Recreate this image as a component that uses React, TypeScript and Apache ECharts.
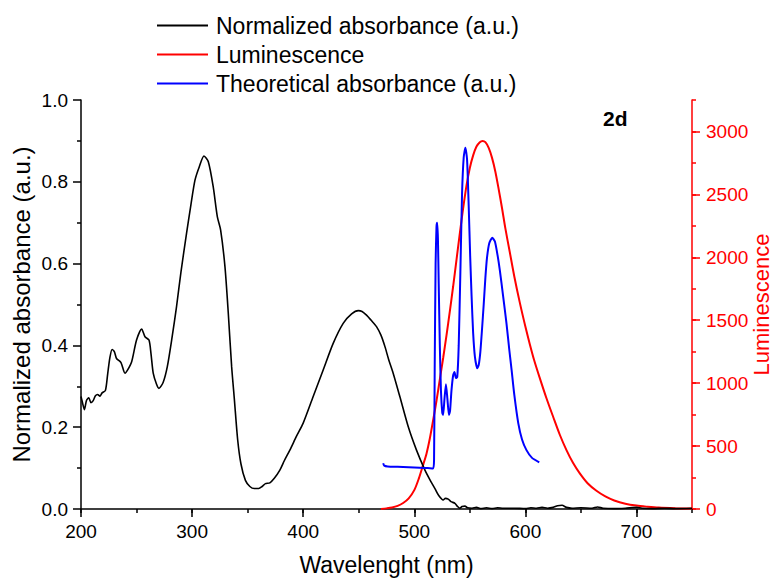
import React, { useEffect, useRef } from "react";
import * as echarts from "echarts";

const FONT = "'Liberation Sans', Arial, sans-serif";

// Normalized absorbance (black) – wavelength (nm) / value (a.u.)
const absWl = [200, 201.5, 203, 205, 207, 209, 211, 213, 215, 217, 219, 222, 224, 226, 228, 230, 232, 236, 239.6, 242, 245.6, 250, 254.6, 257.6, 261.2, 263, 265, 268, 270.2, 274, 277.7, 282, 286, 290, 295, 299, 302.6, 306.5, 310.7, 314.6, 319, 322.7, 325.7, 329.6, 332.6, 335.6, 338, 341, 344, 348, 352, 356, 360, 363, 366, 370, 374, 379, 383, 388, 394, 400, 409, 418, 427, 436, 443.6, 449.6, 453, 457, 461, 466, 470, 473.6, 477, 481, 487, 494.6, 502, 509.6, 514, 518.6, 522, 526, 528, 530.6, 533, 536.6, 539, 541, 543, 545.6, 548, 552, 556, 560, 565, 570, 575, 580, 590, 600, 605, 610, 615, 620, 625, 629, 633, 637, 642, 650, 660, 665, 670, 680, 690, 700, 705, 715, 725, 735, 750];
const absVal = [0.275, 0.258, 0.243, 0.266, 0.272, 0.26, 0.265, 0.277, 0.28, 0.276, 0.284, 0.29, 0.33, 0.37, 0.39, 0.385, 0.368, 0.358, 0.332, 0.34, 0.36, 0.413, 0.44, 0.421, 0.413, 0.38, 0.332, 0.305, 0.295, 0.31, 0.348, 0.42, 0.495, 0.58, 0.674, 0.745, 0.804, 0.837, 0.863, 0.849, 0.788, 0.715, 0.682, 0.592, 0.478, 0.348, 0.27, 0.17, 0.11, 0.07, 0.055, 0.05, 0.05, 0.055, 0.062, 0.064, 0.075, 0.095, 0.118, 0.144, 0.178, 0.21, 0.275, 0.34, 0.405, 0.454, 0.477, 0.485, 0.483, 0.474, 0.462, 0.446, 0.425, 0.397, 0.365, 0.332, 0.275, 0.201, 0.144, 0.095, 0.072, 0.05, 0.033, 0.022, 0.026, 0.024, 0.018, 0.014, 0.006, 0.002, 0.006, 0.007, 0.003, 0.002, 0.004, 0.001, 0.003, 0.001, 0.003, 0.002, 0.002, 0.001, 0.003, 0.002, 0.004, 0.002, 0.004, 0.008, 0.009, 0.004, 0.002, 0.003, 0.002, 0.005, 0.002, 0.001, 0.002, 0.004, 0.002, 0.001, 0.002, 0.001, 0.002];

// Luminescence (red) – wavelength (nm) / intensity
const lumWl = [470, 475, 480, 485, 490, 495, 500, 504, 507.6, 511, 514, 517, 520, 523, 526, 529, 532, 535, 538, 541, 544, 547, 550, 553, 556, 559, 561.5, 564, 567, 570, 573, 576, 579, 582, 586, 590, 595, 600, 604, 608, 613, 619, 625, 631, 637, 643, 649, 656, 664, 672, 680, 690, 700, 710, 720, 735, 750];
const lumVal = [0, 5, 12, 25, 48, 85, 150, 240, 341, 440, 560, 706, 860, 1030, 1200, 1380, 1570, 1770, 1980, 2190, 2390, 2570, 2710, 2810, 2880, 2915, 2925, 2915, 2870, 2790, 2680, 2540, 2390, 2230, 2040, 1850, 1640, 1450, 1310, 1180, 1040, 880, 733, 590, 468, 365, 283, 205, 145, 100, 68, 42, 27, 18, 11, 6, 3];

// Theoretical absorbance (blue) – wavelength (nm) / value (a.u.)
const theoWl = [472, 473, 476, 485, 495, 505, 512, 517, 517.8, 518.4, 519.2, 520, 520.6, 521.3, 522, 523, 524, 525.2, 526, 527.2, 528.5, 529.8, 531.2, 532.2, 533.5, 535, 536.2, 537.5, 538.7, 540, 541.5, 543, 544.5, 546, 547.5, 549, 550.3, 551.6, 553, 554.6, 556.7, 558, 559.5, 561, 562.5, 564, 565.5, 567.5, 570.2, 572.6, 575, 577, 580, 583, 585.5, 587.6, 590, 593.6, 597, 601, 606, 612.5];
const theoVal = [0.112, 0.106, 0.104, 0.103, 0.102, 0.101, 0.1, 0.099, 0.12, 0.35, 0.6, 0.69, 0.7, 0.66, 0.55, 0.4, 0.29, 0.235, 0.23, 0.27, 0.305, 0.27, 0.23, 0.24, 0.29, 0.327, 0.335, 0.32, 0.323, 0.4, 0.58, 0.77, 0.86, 0.883, 0.855, 0.74, 0.62, 0.52, 0.43, 0.372, 0.344, 0.352, 0.385, 0.44, 0.5, 0.565, 0.615, 0.65, 0.663, 0.654, 0.62, 0.584, 0.52, 0.454, 0.39, 0.34, 0.28, 0.21, 0.17, 0.144, 0.125, 0.114];

const xTicksMajor = { min: 200, max: 750, interval: 100 };
const leftTicks = { min: 0, max: 1, interval: 0.2 };
const rightTicks = { min: 0, max: 3250, interval: 500 };

const seriesNames = ["Normalized absorbance (a.u.)", "Luminescence", "Theoretical absorbance (a.u.)"];

const zip = (a: number[], b: number[]) => a.map((v, i) => [v, b[i]]);

export default function App() {
  const ref = useRef<HTMLDivElement>(null);
  useEffect(() => {
    if (!ref.current) return;
    const chart = echarts.init(ref.current, undefined, { renderer: "svg" });
    chart.setOption({
      animation: false,
      backgroundColor: "#fff",
      textStyle: { fontFamily: FONT },
      grid: { left: 81, right: 82, top: 100, bottom: 69, containLabel: false, outerBoundsMode: "none" },
      legend: {
        orient: "vertical",
        left: 157,
        top: 11,
        padding: 0,
        itemGap: 0,
        itemWidth: 51,
        itemHeight: 2,
        icon: "rect",
        data: seriesNames,
        textStyle: { fontSize: 23, color: "#000", fontFamily: FONT, lineHeight: 29, padding: [0, 0, 0, 3] },
      },
      graphic: [
        {
          type: "text",
          x: 603,
          y: 118,
          style: { text: "2d", fontSize: 21, fontWeight: "bold", fill: "#000", font: `bold 21px ${FONT}`, textVerticalAlign: "middle" },
        },
      ],
      xAxis: [
        {
          type: "value",
          position: "bottom",
          ...xTicksMajor,
          name: "Wavelenght (nm)",
          nameLocation: "middle",
          nameGap: 44,
          nameMoveOverlap: false,
          nameTextStyle: { fontSize: 23, color: "#000", fontFamily: FONT },
          axisLine: { show: true, onZero: false, lineStyle: { color: "#000", width: 1.5 } },
          axisTick: { show: true, length: 8, lineStyle: { color: "#000", width: 1.5 } },
          axisLabel: { showMaxLabel: false, fontSize: 19, color: "#000", margin: 13, fontFamily: FONT },
          splitLine: { show: false },
        },
        {
          type: "value",
          position: "bottom",
          min: xTicksMajor.min,
          max: xTicksMajor.max,
          interval: xTicksMajor.interval / 2,
          axisLine: { show: false, onZero: false },
          axisTick: { show: true, length: 4, lineStyle: { color: "#000", width: 1.5 } },
          axisLabel: { show: false },
          splitLine: { show: false },
        },
      ],
      yAxis: [
        {
          type: "value",
          position: "left",
          ...leftTicks,
          name: seriesNames[0],
          nameLocation: "middle",
          nameRotate: 90,
          nameGap: 48,
          nameMoveOverlap: false,
          nameTextStyle: { fontSize: 24, color: "#000", fontFamily: FONT },
          axisLine: { show: true, onZero: false, lineStyle: { color: "#000", width: 1.5 } },
          axisTick: { show: true, length: 8, lineStyle: { color: "#000", width: 1.5 } },
          minorTick: { show: true, splitNumber: 2, length: 4, lineStyle: { color: "#000", width: 1.5 } },
          axisLabel: { fontSize: 19, color: "#000", margin: 13, fontFamily: FONT, formatter: (v: number) => v.toFixed(1) },
          splitLine: { show: false },
          minorSplitLine: { show: false },
        },
        {
          type: "value",
          position: "right",
          ...rightTicks,
          name: seriesNames[1],
          nameLocation: "middle",
          nameRotate: 90,
          nameGap: 58,
          nameMoveOverlap: false,
          nameTextStyle: { fontSize: 22, color: "#f00", fontFamily: FONT },
          axisLine: { show: true, onZero: false, lineStyle: { color: "#f00", width: 1.5 } },
          axisTick: { show: true, length: 8, lineStyle: { color: "#f00", width: 1.5 } },
          axisLabel: { showMaxLabel: false, fontSize: 19, color: "#f00", margin: 14, fontFamily: FONT, formatter: (v: number) => String(v) },
          splitLine: { show: false },
        },
        {
          type: "value",
          position: "right",
          min: rightTicks.min,
          max: rightTicks.max,
          interval: rightTicks.interval / 2,
          axisLine: { show: false, onZero: false },
          axisTick: { show: true, length: 4, lineStyle: { color: "#f00", width: 1.5 } },
          axisLabel: { show: false },
          splitLine: { show: false },
        },
      ],
      series: [
        {
          name: seriesNames[0],
          type: "line",
          xAxisIndex: 0,
          yAxisIndex: 0,
          data: zip(absWl, absVal),
          showSymbol: false,
          smooth: 0.25,
          lineStyle: { color: "#000", width: 1.6 },
          itemStyle: { color: "#000" },
          z: 3,
        },
        {
          name: seriesNames[1],
          type: "line",
          xAxisIndex: 0,
          yAxisIndex: 1,
          data: zip(lumWl, lumVal),
          showSymbol: false,
          smooth: 0.3,
          lineStyle: { color: "#f00", width: 2 },
          itemStyle: { color: "#f00" },
          z: 2,
        },
        {
          name: seriesNames[2],
          type: "line",
          xAxisIndex: 0,
          yAxisIndex: 0,
          data: zip(theoWl, theoVal),
          showSymbol: false,
          smooth: 0.2,
          lineStyle: { color: "#00f", width: 2 },
          itemStyle: { color: "#00f" },
          z: 4,
        },
      ],
    });
    return () => chart.dispose();
  }, []);
  return <div ref={ref} style={{ position: "fixed", left: 0, top: 0, width: 774, height: 578 }} />;
}
